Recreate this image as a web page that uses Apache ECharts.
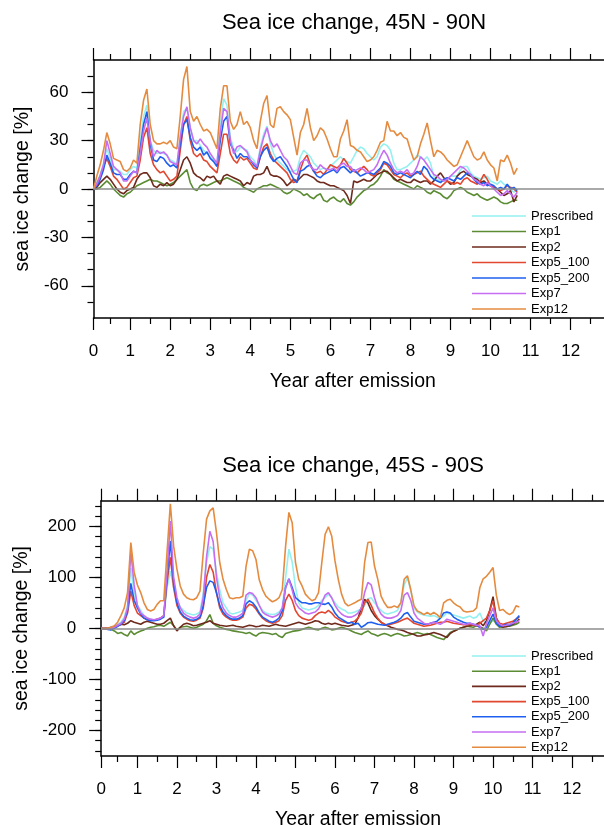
<!DOCTYPE html>
<html>
<head>
<meta charset="utf-8">
<script src="https://cdn.jsdelivr.net/npm/echarts@6/dist/echarts.min.js"></script>
<style>
  html, body { margin: 0; padding: 0; background: #fff; }
  #chart { width: 604px; height: 825px; }
</style>
</head>
<body>
<div id="chart"></div>
<script>
// Experiment names and line colours (shared by both hemispheres)
const seriesNames = ['Prescribed', 'Exp1', 'Exp2', 'Exp5_100', 'Exp5_200', 'Exp7', 'Exp12'];
const seriesColors = ['#95f0f0', '#5b8c33', '#6e2a1c', '#e2472f', '#1f5fef', '#c66ef2', '#e58b3f'];

// Time axis: monthly steps, labelled in years after emission
const yearTickMonths = [1, 12, 24, 36, 48, 60, 72, 84, 96, 108, 120, 132, 144];
const yearTickLabels = ['0', '1', '2', '3', '4', '5', '6', '7', '8', '9', '10', '11', '12'];
const halfYearMonths = [6, 18, 30, 42, 54, 66, 78, 90, 102, 114, 126, 138, 150];

// Vertical ticks
const nhTickValues = [-60, -30, 0, 30, 60];
const nhMinorTicks = [-70, -60, -50, -40, -30, -20, -10, 0, 10, 20, 30, 40, 50, 60, 70];
const shTickValues = [-200, -100, 0, 100, 200];
const shMinorTicks = [-240, -220, -200, -180, -160, -140, -120, -100, -80, -60, -40, -20, 0,
                      20, 40, 60, 80, 100, 120, 140, 160, 180, 200, 220, 240];

// ---- 45N - 90N, sea ice change [%], month 1..128 ----
const nhPrescribed = [
  0, 4, 9, 16, 25, 19, 12, 12, 11, 9, 9, 12,
  14, 13, 30, 45, 52, 30, 24, 22, 23, 22, 21, 18,
  17, 15, 32, 48, 50, 38, 30, 30, 27, 24, 22, 20,
  18, 15, 40, 56, 52, 32, 25, 23, 26, 25, 24, 20,
  18, 14, 26, 34, 39, 28, 22, 18, 16, 14, 12, 11,
  11, 12, 20, 24, 22, 20, 16, 14, 12, 13, 12, 14,
  16, 18, 20, 18, 17, 16, 20, 24, 26, 25, 22, 20,
  18, 20, 26, 28, 27, 24, 16, 12, 12, 13, 14, 16,
  18, 21, 20, 18, 20, 16, 8, 6, 5, 5, 6, 8,
  8, 8, 12, 14, 14, 10, 8, 7, 6, 7, 8, 5,
  4, 3, 5, 3, 2, 0, -2, 0
];
const nhExp1 = [
  0, 0, 1, 3, 5, 3, 0, -2, -4, -5, -3, -2,
  0, 2, 3, 4, 5, 6, 5, 5, 4, 3, 2, 3,
  4, 6, 8, 10, 12, 4, 0, -1, 2, 3, 2, 3,
  4, 5, 5, 6, 7, 6, 5, 4, 3, 1, 0, -1,
  -2, 0, 1, 2, 2, 3, 2, 1, 0, -2, -3, -2,
  0, -1, -2, -4, -3, -5, -6, -4, -3, -7, -8, -6,
  -5, -7, -8, -6, -9, -10, -8, -5, -3, -1, 0, 2,
  3, 5, 8, 12, 10, 9, 6, 5, 4, 3, 2, 1,
  0, 2, 1, 0, -2, -3, -1, -2, -3, -5, -6, -4,
  -1, 0, 1, 0, -2, -3, -4, -3, -5, -6, -7, -6,
  -5, -6, -8, -9, -9, -8, -7, -7
];
const nhExp2 = [
  0, 1, 4, 6, 8, 6, 3, 0, -2, -3, -1, 0,
  1, 6, 9, 10, 10, 7, 2, 1, 3, 2, 4, 2,
  3, 6, 12, 18, 20, 16, 10, 8, 7, 5, 8, 7,
  8, 5, 3, 8, 9, 8, 7, 6, 5, 2, 4, 3,
  8, 9, 9, 10, 14, 9, 8, 8, 7, 5, 2, 4,
  6, 5, 7, 9, 9, 8, 7, 5, 4, 4, 3, 2,
  2, 1, 0, -1, -4, -9, 5, 4, 5, 6, 5, 5,
  7, 9, 10, 11, 11, 9, 7, 5, 6, 5, 4, 4,
  6, 5, 4, 5, 5, 3, 5, 8, 10, 7, 5, 3,
  4, 8, 10, 11, 9, 8, 7, 6, 4, 5, 3, 2,
  1, 0, -2, -4, -3, -1, -8, -4
];
const nhExp5_100 = [
  0, 3, 8, 14, 19, 14, 8, 6, 3, 0, 1, 4,
  7, 8, 18, 32, 38, 22, 15, 12, 10, 11, 8, 5,
  6, 8, 24, 40, 45, 30, 22, 20, 22, 18, 17, 14,
  12, 10, 22, 34, 34, 22, 18, 16, 20, 18, 19, 16,
  13, 12, 20, 26, 28, 22, 18, 16, 14, 12, 10, 6,
  4, 5, 12, 18, 21, 15, 11, 10, 11, 9, 12, 15,
  14, 13, 15, 19, 16, 12, 11, 10, 12, 14, 12, 9,
  8, 10, 12, 16, 15, 12, 9, 8, 7, 9, 10, 8,
  9, 10, 11, 8, 6, 4, 3, 2, 1, 3, 5, 4,
  3, 4, 3, 6, 7, 5, 4, 3, 5, 9, 6, 2,
  1, 0, -1, 0, 2, 1, 0, -2
];
const nhExp5_200 = [
  0, 2, 6, 12, 21, 16, 10, 9, 9, 6, 6, 9,
  11, 10, 25, 40, 48, 28, 18, 17, 20, 19, 16, 14,
  15, 13, 28, 40, 43, 32, 26, 24, 26, 21, 23, 19,
  17, 14, 30, 42, 45, 28, 24, 19, 22, 20, 20, 18,
  15, 13, 20, 24, 26, 20, 17, 19, 20, 17, 14, 10,
  6, 4, 11, 12, 14, 15, 11, 8, 7, 9, 10, 11,
  12, 10, 13, 14, 12, 10, 12, 10, 8, 9, 10, 10,
  9, 11, 13, 17, 16, 14, 10, 9, 10, 9, 8, 7,
  9, 11, 9, 14, 12, 8, 6, 5, 4, 6, 7, 6,
  5, 7, 6, 8, 10, 9, 6, 4, 3, 4, 2, 3,
  2, 0, 1, 0, 3, 0, 1, -1
];
const nhExp7 = [
  0, 3, 8, 15, 30, 22, 14, 12, 10, 5, 5, 8,
  11, 10, 22, 36, 44, 30, 20, 24, 22, 23, 21, 17,
  16, 15, 32, 45, 51, 38, 30, 28, 31, 28, 26, 22,
  19, 16, 35, 50, 48, 30, 22, 26, 27, 25, 23, 18,
  16, 14, 24, 32, 38, 30, 26, 28, 24, 20, 18, 14,
  10, 9, 16, 18, 18, 14, 12, 12, 15, 13, 12, 12,
  13, 11, 15, 16, 14, 14, 11, 12, 13, 12, 10, 11,
  12, 15, 20, 24, 21, 16, 12, 10, 11, 10, 12, 9,
  10, 14, 20, 18, 15, 12, 9, 8, 6, 5, 6, 8,
  10, 12, 14, 13, 11, 9, 6, 5, 3, 2, 4, 2,
  0, -2, -4, -3, -1, -3, -5, -2
];
const nhExp12 = [
  0, 8, 15, 24, 35, 28, 19, 18, 17, 12, 11, 13,
  18, 16, 40, 55, 62, 40, 30, 28, 28, 29, 28, 30,
  26, 25, 45, 68, 76, 48, 42, 45, 40, 36, 37, 35,
  30, 25, 50, 64, 64, 42, 37, 40, 48, 40, 42, 38,
  30, 25, 42, 53, 58, 40, 38, 50, 51, 48, 46, 43,
  32, 21, 35, 40, 50, 38, 30, 33, 38, 36, 31, 25,
  20, 20, 31, 36, 43, 27, 26, 24, 23, 20, 17, 18,
  20, 24, 29, 30, 42, 36, 36, 33, 35, 32, 31, 24,
  18, 20, 28, 34, 41, 30, 20, 24, 23, 21, 18, 16,
  14, 15, 20, 25, 30, 25, 20, 18, 19, 23, 18, 15,
  13, 5, 18, 17, 21, 16, 9, 13
];

// ---- 45S - 90S, sea ice change [%], month 1..128 ----
const shPrescribed = [
  0, 0, -1, 0, 3, 8, 12, 22, 45, 118, 70, 45,
  35, 25, 20, 18, 16, 18, 20, 22, 80, 112, 80, 55,
  42, 35, 30, 28, 26, 28, 32, 70, 130, 160, 155, 110,
  75, 50, 40, 30, 28, 30, 32, 35, 55, 68, 65, 55,
  45, 35, 30, 28, 27, 28, 32, 40, 100, 155, 130, 80,
  50, 40, 38, 36, 38, 40, 45, 55, 60, 67, 60, 50,
  42, 38, 35, 30, 30, 32, 35, 38, 45, 58, 60, 50,
  42, 35, 30, 28, 30, 32, 35, 50, 85, 99, 75, 40,
  32, 28, 26, 25, 24, 25, 22, 20, 24, 30, 28, 26,
  24, 22, 20, 22, 24, 20, 22, 30, 15, 10, 12, 15,
  12, 8, 6, 7, 10, 12, 15, 18
];
const shExp1 = [
  0, 0, -1, -2, -5, -10, -8, -12, -15, -5, -12, -8,
  -5, -3, 0, 2, 3, 5, 6, 4, 8, 12, 5, -3,
  2, 3, 4, 2, 0, 2, 5, 8, 15, 27, 10, 5,
  2, 0, -2, -3, -5, -6, -7, -8, -10, -8, -12, -15,
  -10, -8, -9, -10, -12, -10, -15, -18, -10, -8, -6, -5,
  -4, -2, 0, 2, 0, -2, -3, 0, 2, 0, -3, -2,
  0, 2, 0, -2, -5, -8, -10, -12, -8, -5, -10, -12,
  -15, -12, -10, -12, -15, -12, -10, -12, -15, -14, -12, -10,
  -8, -10, -12, -10, -12, -15, -18, -20, -22, -15, -8, -5,
  -3, 0, 2, 4, 3, 2, 5, 3, 0, -5, 8, 20,
  8, 2, 3, 5, 4, 6, 8, 12
];
const shExp2 = [
  0, 0, 0, 2, 3, 5, 8, 7, 10, 15, 12, 10,
  8, 12, 14, 12, 10, 8, 8, 10, 15, 20, 5, -5,
  2, 8, 10, 8, 5, 6, 8, 10, 12, 15, 10, 8,
  6, 5, 4, 5, 6, 4, 3, 2, 4, 6, 5, 3,
  4, 6, 5, 4, 6, 8, 6, 5, 4, 6, 8, 10,
  12, 10, 8, 10, 12, 15, 14, 10, 8, 10, 8, 10,
  8, 6, 5, 4, 6, 8, 20, 40, 57, 50, 35, 25,
  18, 12, 8, 5, 2, 0, -2, -3, -5, -8, -10, -12,
  -15, -15, -13, -12, -10, -8, -10, -12, -15, -18, -10, -6,
  -3, 0, 2, 4, 5, 6, 8, 12, 5, 15, 35, 62,
  20, 5, 2, 3, 5, 8, 12, 18
];
const shExp5_100 = [
  0, 0, -1, 0, 2, 5, 8, 12, 30, 73, 45, 30,
  25, 20, 17, 16, 16, 18, 20, 25, 90, 139, 80, 45,
  30, 22, 18, 15, 14, 16, 20, 40, 100, 125, 110, 70,
  40, 28, 22, 18, 16, 16, 18, 22, 40, 47, 45, 38,
  28, 20, 15, 12, 10, 12, 15, 25, 55, 67, 55, 35,
  25, 20, 18, 16, 18, 25, 30, 32, 30, 35, 30, 22,
  18, 14, 12, 10, 12, 14, 20, 30, 50, 57, 45, 30,
  20, 12, 8, 6, 8, 10, 12, 15, 18, 20, 15, 10,
  8, 6, 4, 5, 6, 8, 10, 12, 12, 14, 12, 10,
  9, 8, 7, 7, 8, 6, 5, 10, 15, 20, 35, 54,
  20, 10, 8, 10, 12, 14, 18, 22
];
const shExp5_200 = [
  0, 0, -2, -3, 0, 4, 8, 15, 35, 88, 55, 40,
  28, 20, 17, 15, 15, 16, 18, 22, 100, 171, 90, 50,
  32, 24, 20, 17, 16, 18, 22, 45, 80, 93, 90, 70,
  45, 32, 25, 20, 18, 18, 20, 25, 48, 54, 50, 42,
  30, 22, 18, 14, 12, 15, 20, 35, 80, 97, 80, 60,
  55, 50, 50, 48, 48, 50, 50, 48, 47, 50, 42, 30,
  22, 18, 14, 10, 12, 8, 10, 2, 6, 11, 12, 10,
  8, 7, 6, 8, 10, 12, 15, 20, 28, 31, 22, 14,
  12, 10, 8, 8, 10, 12, 14, 20, 30, 32, 30, 22,
  18, 15, 12, 10, 10, 8, 6, 2, -2, 2, 15, 28,
  10, 4, 5, 8, 6, 10, 18, 25
];
const shExp7 = [
  0, 0, -1, 0, 2, 6, 10, 18, 40, 150, 85, 45,
  30, 25, 20, 18, 17, 18, 20, 25, 110, 210, 100, 60,
  40, 30, 25, 22, 20, 22, 28, 60, 140, 190, 170, 100,
  60, 40, 30, 25, 22, 22, 25, 30, 65, 70, 68, 60,
  45, 32, 27, 24, 22, 24, 28, 40, 80, 96, 75, 50,
  40, 35, 30, 28, 30, 32, 38, 50, 65, 70, 60, 45,
  35, 28, 24, 22, 22, 25, 30, 40, 70, 90, 85, 60,
  40, 28, 22, 20, 20, 22, 25, 35, 65, 70, 55, 30,
  20, 15, 10, 8, 10, 12, 10, 8, 12, 18, 16, 14,
  12, 10, 8, 8, 10, 8, 6, 5, -15, 10, 25, 40,
  15, 8, 5, 6, 8, 10, 12, 15
];
const shExp12 = [
  0, 0, 0, 2, 5, 12, 25, 40, 70, 168, 110, 85,
  70, 50, 37, 34, 37, 47, 54, 54, 150, 244, 161, 116,
  83, 67, 60, 57, 56, 60, 73, 148, 214, 230, 236, 188,
  129, 96, 76, 60, 58, 60, 60, 63, 122, 155, 152, 135,
  95, 76, 63, 57, 52, 55, 60, 76, 161, 227, 207, 129,
  96, 83, 67, 60, 54, 57, 70, 129, 184, 199, 181, 132,
  96, 67, 50, 44, 47, 50, 54, 57, 129, 168, 169, 122,
  96, 63, 50, 41, 41, 44, 41, 50, 96, 103, 76, 44,
  34, 31, 27, 31, 27, 31, 27, 21, 50, 55, 57, 50,
  45, 42, 34, 32, 33, 34, 40, 80, 97, 102, 110, 119,
  65, 35, 37, 31, 27, 31, 44, 42
];

const nhData = [nhPrescribed, nhExp1, nhExp2, nhExp5_100, nhExp5_200, nhExp7, nhExp12];
const shData = [shPrescribed, shExp1, shExp2, shExp5_100, shExp5_200, shExp7, shExp12];

const FONT = '"Liberation Sans", Arial, Helvetica, sans-serif';
const INK = '#000';

const panels = [
  {
    title: 'Sea ice change, 45N - 90N', titleX: 354, titleY: 23,
    grid: { left: 93.5, top: 60, width: 510.5, height: 258 },
    yMin: -80, yMax: 80, majors: nhTickValues, minors: nhMinorTicks,
    data: nhData, legendTop: 208.2, legendGapH: 15.5, xNamePad: 8
  },
  {
    title: 'Sea ice change, 45S - 90S', titleX: 353, titleY: 466,
    grid: { left: 101.2, top: 500.7, width: 503.8, height: 255.3 },
    yMin: -250, yMax: 250, majors: shTickValues, minors: shMinorTicks,
    data: shData, legendTop: 648.4, legendGapH: 15.2, xNamePad: 10
  }
];

const axisLineStyle = { color: INK, width: 1.5 };
const tickStyle = { color: INK, width: 1.2 };

const grids = [], xAxes = [], yAxes = [], series = [], legends = [], graphics = [];

panels.forEach((p, pi) => {
  grids.push(Object.assign({ containLabel: false, outerBoundsMode: 'none' }, p.grid));
  const xBase = { type: 'value', gridIndex: pi, min: 1, max: 154, splitLine: { show: false } };
  // bottom: year ticks + labels
  xAxes.push(Object.assign({}, xBase, {
    position: 'bottom',
    axisLine: { show: true, onZero: false, lineStyle: axisLineStyle },
    axisTick: { show: true, inside: false, length: 12, customValues: yearTickMonths, lineStyle: tickStyle },
    axisLabel: {
      show: true, customValues: yearTickMonths, margin: 25,
      formatter: v => yearTickLabels[yearTickMonths.indexOf(v)],
      color: INK, fontSize: 17, fontFamily: FONT
    },
    name: 'Year after emission', nameLocation: 'middle', nameGap: 54,
    nameTextStyle: { color: INK, fontSize: 19.5, fontFamily: FONT, padding: [0, 0, 0, p.xNamePad] }
  }));
  // bottom: half-year ticks
  xAxes.push(Object.assign({}, xBase, {
    position: 'bottom',
    axisLine: { show: false, onZero: false },
    axisTick: { show: true, inside: false, length: 6, customValues: halfYearMonths, lineStyle: tickStyle },
    axisLabel: { show: false }
  }));
  // top frame: year ticks
  xAxes.push(Object.assign({}, xBase, {
    position: 'top',
    axisLine: { show: true, onZero: false, lineStyle: axisLineStyle },
    axisTick: { show: true, inside: false, length: 12, customValues: yearTickMonths, lineStyle: tickStyle },
    axisLabel: { show: false }
  }));
  // top frame: half-year ticks
  xAxes.push(Object.assign({}, xBase, {
    position: 'top',
    axisLine: { show: false, onZero: false },
    axisTick: { show: true, inside: false, length: 6, customValues: halfYearMonths, lineStyle: tickStyle },
    axisLabel: { show: false }
  }));

  const yBase = { type: 'value', gridIndex: pi, min: p.yMin, max: p.yMax, position: 'left', splitLine: { show: false } };
  yAxes.push(Object.assign({}, yBase, {
    axisLine: { show: true, onZero: false, lineStyle: axisLineStyle },
    axisTick: { show: true, inside: false, length: 12, customValues: p.majors, lineStyle: tickStyle },
    axisLabel: { show: true, customValues: p.majors, margin: 25, color: INK, fontSize: 17, fontFamily: FONT },
    name: 'sea ice change [%]', nameLocation: 'middle', nameRotate: 90,
    nameGap: p.grid.left - 36,
    nameTextStyle: { color: INK, fontSize: 19.5, fontFamily: FONT }
  }));
  yAxes.push(Object.assign({}, yBase, {
    axisLine: { show: false, onZero: false },
    axisTick: { show: true, inside: false, length: 6, customValues: p.minors, lineStyle: tickStyle },
    axisLabel: { show: false }
  }));

  p.data.forEach((vals, si) => {
    const s = {
      type: 'line',
      name: seriesNames[si],
      xAxisIndex: pi * 4,
      yAxisIndex: pi * 2,
      data: vals.map((v, k) => [k + 1, v]),
      symbol: 'none',
      showSymbol: false,
      silent: true,
      lineStyle: { color: seriesColors[si], width: 1.6 },
      itemStyle: { color: seriesColors[si] },
      animation: false
    };
    if (si === 0) {
      s.markLine = {
        silent: true, symbol: ['none', 'none'], label: { show: false },
        lineStyle: { color: '#8c8c8c', width: 1.5, type: 'solid' },
        data: [{ yAxis: 0 }], animation: false
      };
    }
    series.push(s);
  });

  legends.push({
    data: seriesNames, orient: 'vertical', left: 472, top: p.legendTop,
    padding: 0, itemGap: 0, itemWidth: 54, itemHeight: 1.6, icon: 'rect',
    selectedMode: false,
    textStyle: { color: INK, fontSize: 13, fontFamily: FONT, lineHeight: p.legendGapH }
  });

  graphics.push({
    type: 'text', x: p.titleX, y: p.titleY,
    style: {
      text: p.title, fill: INK, font: '22px ' + FONT,
      align: 'center', verticalAlign: 'middle', textAlign: 'center', textVerticalAlign: 'middle'
    }
  });
});

const chart = echarts.init(document.getElementById('chart'), null, { renderer: 'canvas' });
chart.setOption({
  animation: false,
  backgroundColor: '#fff',
  grid: grids,
  xAxis: xAxes,
  yAxis: yAxes,
  legend: legends,
  graphic: graphics,
  series: series
});
</script>
</body>
</html>
